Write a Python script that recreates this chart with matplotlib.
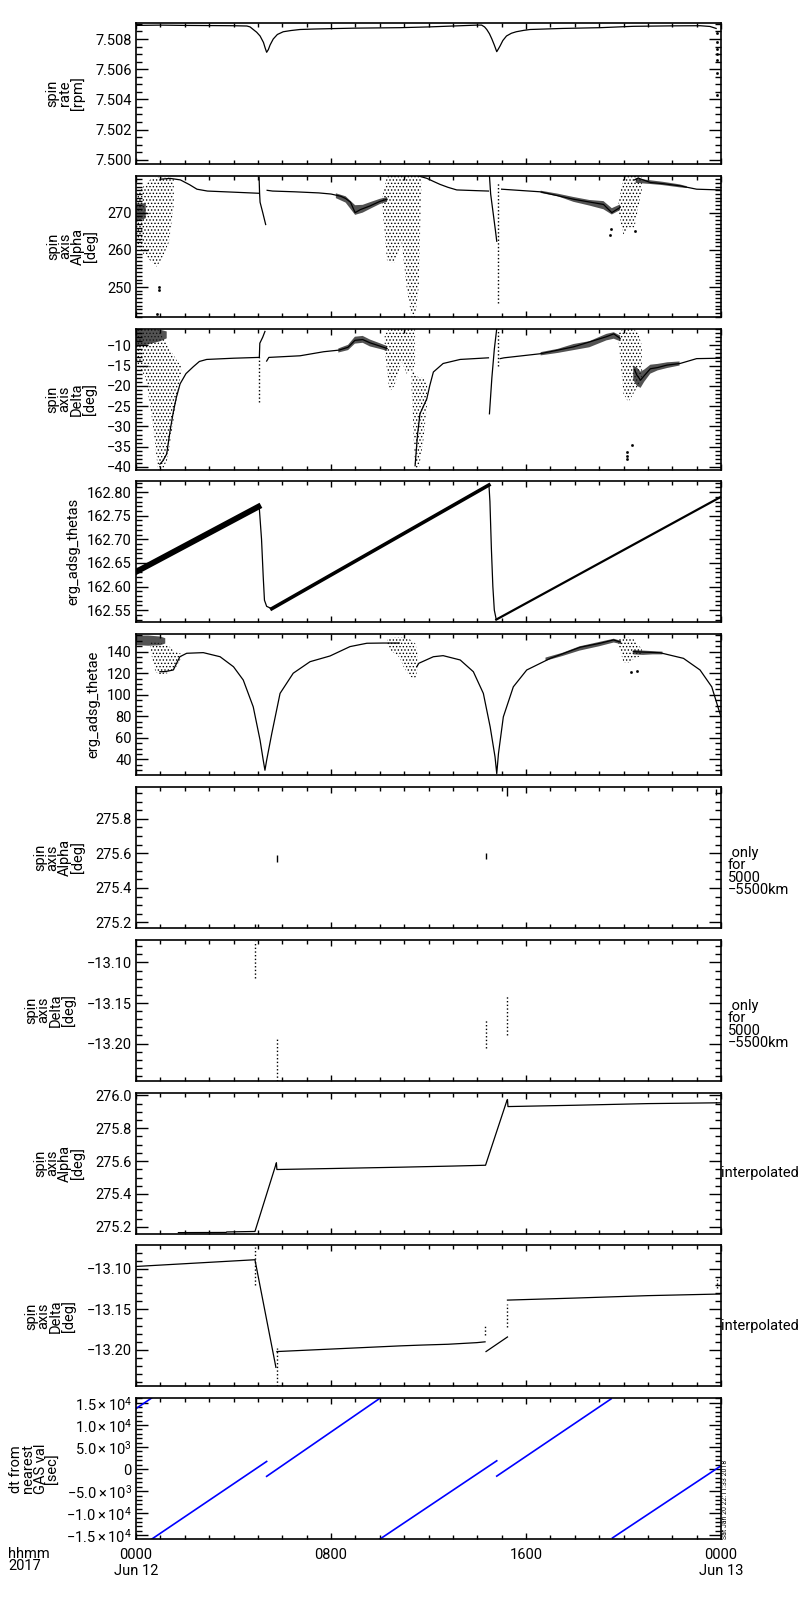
import matplotlib
matplotlib.use('Agg')
import matplotlib.pyplot as plt
from matplotlib.ticker import MultipleLocator, FixedLocator, FuncFormatter
import numpy as np

plt.rcParams['font.family'] = ['Roboto', 'DejaVu Sans']
plt.rcParams['mathtext.fontset'] = 'custom'
plt.rcParams['mathtext.rm'] = 'Roboto'
plt.rcParams['mathtext.it'] = 'Roboto:italic'
plt.rcParams['mathtext.bf'] = 'Roboto:bold'
plt.rcParams['hatch.linewidth'] = 0.6
plt.rcParams['axes.unicode_minus'] = True

# ---------------- time axis (hours since 2017-06-12 00:00) ----------------
x_major = [0, 8, 16, 24]
x_labels = ['0000\nJun 12', '0800', '1600', '0000\nJun 13']

# ---------------- panel 1: spin rate ----------------
rate_t = [0.0, 1.0, 2.0, 3.0, 4.0, 4.55, 4.68, 4.81, 4.95, 5.09, 5.23, 5.3, 5.36, 5.43, 5.5, 5.63,
          5.8, 6.04, 6.35, 6.73, 7.3, 8.1, 9.0, 10.83, 12.0, 13.0, 14.0, 14.18, 14.3, 14.39, 14.5,
          14.6, 14.7, 14.8, 14.87, 14.94, 15.05, 15.2, 15.4, 15.6, 15.9, 16.17, 17.5, 19.04, 20.4,
          22.0, 23.14, 23.55, 23.8]
rate_v = [7.50890, 7.50892, 7.50890, 7.50889, 7.50888, 7.50886, 7.50880, 7.50863, 7.50845, 7.50820,
          7.50777, 7.50740, 7.50712, 7.50730, 7.50760, 7.50800, 7.50830, 7.50848, 7.50856, 7.50863,
          7.50866, 7.50869, 7.50872, 7.50875, 7.50880, 7.50886, 7.50892, 7.50892, 7.50880, 7.50863,
          7.50835, 7.50800, 7.50760, 7.50716, 7.50735, 7.50755, 7.50790, 7.50820, 7.50838, 7.50848,
          7.50857, 7.50863, 7.50870, 7.50875, 7.50884, 7.50887, 7.50888, 7.50883, 7.50870]
rate_tail_t = [23.82, 23.82, 23.83, 23.83, 23.84, 23.84, 23.85]
rate_tail_v = [7.50840, 7.50777, 7.50734, 7.50701, 7.50658, 7.50572, 7.50432]

# ---------------- panel 2: spin axis alpha ----------------
alpha_segs_t = [
    [1.03, 1.4, 1.82, 2.2, 2.5, 2.93, 4.0, 5.05],
    [5.05, 5.07, 5.09, 5.2, 5.32],
    [5.38, 5.6, 6.5, 7.5, 8.0, 8.4, 8.6, 8.8, 8.99, 9.2, 9.6, 10.0, 10.3],
    [11.57, 11.94, 12.2, 12.47, 12.8, 13.16, 14.0, 14.46],
    [14.5, 14.55, 14.65, 14.75, 14.8],
    [15.0, 16.58, 17.95, 19.18, 19.52, 19.86],
    [20.45, 20.6, 21.1, 21.6, 22.32, 23.0, 23.96],
]
alpha_segs_v = [
    [279.0, 279.2, 278.8, 277.5, 276.3, 275.8, 275.5, 275.2],
    [279.5, 275.2, 272.8, 270.0, 266.8],
    [276.0, 275.8, 275.6, 275.3, 275.0, 274.4, 273.8, 272.8, 270.0, 270.8, 271.8, 273.0, 273.6],
    [279.9, 279.2, 278.4, 277.6, 276.8, 276.1, 275.9, 275.8],
    [279.9, 275.0, 270.0, 265.0, 262.3],
    [276.3, 275.6, 273.6, 272.2, 270.0, 271.4],
    [278.8, 279.3, 278.1, 277.8, 277.2, 276.3, 276.1],
]
alpha_cloud_t = [[0.0, 0.3, 0.6, 0.85, 1.1, 1.35, 1.55],
                 [10.1, 10.3, 10.6, 10.9, 11.1, 11.3, 11.45, 11.6, 11.7],
                 [19.8, 20.0, 20.2, 20.45, 20.75]]
alpha_cloud_lo = [[262, 259, 257, 255.5, 258, 262, 272],
                  [272, 257, 256.5, 262, 250, 242, 242, 250, 276],
                  [270, 264, 266, 266, 276]]
alpha_cloud_hi = [[275, 277, 279, 279.5, 279.5, 279.5, 279],
                  [274, 279.9, 279.9, 279.9, 279.9, 279.9, 279.9, 279.9, 279.9],
                  [273, 279.9, 279.9, 279.9, 279.5]]
alpha_band_t = [[0.0, 0.2, 0.4],
                [8.2, 8.6, 8.99, 9.3, 9.6, 10.0, 10.3],
                [16.6, 17.3, 17.95, 18.6, 19.18, 19.52, 19.86],
                [20.5, 21.1, 21.6, 22.3, 22.6]]
alpha_band_lo = [[267.5, 268, 268.5],
                 [273.9, 272.7, 269.4, 270.0, 271.0, 272.3, 272.9],
                 [275.3, 274.4, 272.9, 271.9, 270.9, 269.5, 270.7],
                 [278.0, 277.7, 277.4, 276.8, 276.6]]
alpha_band_hi = [[272.5, 272.5, 272.5],
                 [275.2, 274.4, 272.0, 272.1, 272.8, 273.7, 274.2],
                 [275.9, 275.1, 274.2, 273.4, 273.1, 271.2, 272.2],
                 [279.2, 278.7, 278.3, 277.6, 277.1]]
alpha_dots_t = [0.95, 0.96, 0.88, 19.45, 19.47, 20.48]
alpha_dots_v = [250.0, 249.2, 242.8, 264.1, 265.7, 265.0]
alpha_dotted = [(14.87, 245.8, 278.2)]

# ---------------- panel 3: spin axis delta ----------------
delta_segs_t = [
    [0.98, 1.1, 1.26, 1.4, 1.53, 1.65, 1.81, 2.05, 2.35, 2.6, 2.9, 4.0, 5.04],
    [5.06, 5.08, 5.2, 5.29],
    [5.36, 5.45, 6.73, 7.7, 8.33, 8.7, 8.98, 9.3, 9.6, 10.0, 10.3],
    [11.45, 11.55, 11.65, 11.93, 12.05, 12.2, 12.6, 13.3, 14.46],
    [14.5, 14.6, 14.7, 14.8],
    [14.94, 15.1, 16.58, 17.95, 19.3, 19.6, 19.86],
    [20.45, 20.55, 20.7, 20.85, 21.1, 21.4, 21.78, 22.32, 23.0, 23.96],
]
delta_segs_v = [
    [-39.3, -38.5, -36.8, -31.0, -26.5, -23.0, -19.5, -17.0, -15.3, -14.0, -13.5, -13.2, -13.0],
    [-13.0, -9.5, -8.0, -6.6],
    [-13.9, -13.0, -12.6, -11.6, -11.2, -10.5, -8.8, -8.6, -9.4, -10.2, -10.8],
    [-39.7, -32.0, -26.9, -23.2, -20.0, -16.6, -14.5, -13.5, -13.1],
    [-26.9, -18.0, -11.0, -5.9],
    [-13.3, -13.1, -12.1, -10.4, -7.9, -7.2, -8.3],
    [-16.0, -17.4, -18.6, -17.5, -15.8, -15.5, -14.9, -14.5, -13.3, -13.2],
]
delta_cloud_t = [[0.0, 0.4, 0.7, 0.9, 1.1, 1.3, 1.5, 1.7, 1.85],
                 [10.2, 10.4, 10.6, 10.9, 11.1, 11.3, 11.45],
                 [11.3, 11.45, 11.6, 11.8, 11.95],
                 [19.8, 20.0, 20.2, 20.4, 20.6, 20.75]]
delta_cloud_lo = [[-14, -18, -30, -40.6, -40.6, -38, -30, -22, -17],
                  [-11, -21.5, -20, -14, -17, -16, -15],
                  [-20, -40.6, -40.6, -33, -24],
                  [-9, -22, -24, -22, -20, -19]]
delta_cloud_hi = [[-5.9, -5.9, -5.9, -6, -8, -10, -12, -14, -15],
                  [-7.5, -5.9, -5.9, -5.9, -5.9, -5.9, -5.9],
                  [-15, -17, -18, -18, -20],
                  [-7, -5.9, -5.9, -5.9, -7, -10]]
delta_band_t = [[0.0, 0.5, 1.0, 1.26],
                [8.3, 8.7, 8.98, 9.3, 9.6, 10.0, 10.3],
                [16.6, 17.3, 17.95, 18.6, 19.3, 19.6, 19.86],
                [20.4, 20.55, 20.7, 20.85, 21.1, 21.4, 21.8, 22.3]]
delta_band_lo = [[-10.5, -9.8, -9.0, -8.3],
                 [-11.8, -11.2, -9.6, -9.4, -10.3, -10.9, -11.4],
                 [-12.5, -11.9, -11.2, -10.5, -8.8, -8.4, -9.0],
                 [-18.5, -20.0, -20.5, -19.0, -17.0, -16.2, -15.6, -15.0]]
delta_band_hi = [[-6.2, -6.2, -6.2, -6.6],
                 [-10.8, -9.9, -7.9, -7.7, -8.6, -9.5, -10.2],
                 [-11.7, -10.9, -9.7, -9.0, -7.2, -6.8, -7.6],
                 [-15.0, -15.5, -16.5, -16.0, -14.8, -14.6, -14.2, -14.0]]
delta_dots_t = [20.13, 20.14, 20.16, 20.35]
delta_dots_v = [-36.4, -37.3, -38.1, -34.7]
delta_dotted = [(5.06, -24.0, -13.0), (14.87, -15.0, -5.9)]

# ---------------- panel 4: erg_adsg_thetas ----------------
thetas_segs_t = [[0.0, 5.02], [5.02, 5.06, 5.15, 5.22, 5.27, 5.36, 5.57], [5.57, 14.48],
                 [14.48, 14.52, 14.58, 14.64, 14.7, 14.78], [14.78, 24.0]]
thetas_segs_v = [[162.631, 162.769], [162.769, 162.765, 162.700, 162.620, 162.571, 162.558, 162.553],
                 [162.553, 162.815], [162.815, 162.780, 162.680, 162.600, 162.550, 162.530],
                 [162.530, 162.790]]

# ---------------- panel 5: erg_adsg_thetae ----------------
thetae_segs_t = [
    [0.98, 1.2, 1.53, 1.8, 2.08, 2.76, 3.45, 4.0, 4.4, 4.81, 5.09, 5.22, 5.29, 5.36, 5.57, 5.91,
     6.45, 7.14, 7.96, 8.78, 9.47, 10.15, 10.8],
    [11.52, 11.6, 12.2, 12.6, 13.3, 13.84, 14.25, 14.53, 14.73, 14.8, 14.87, 15.07, 15.48, 16.03,
     17.0, 18.22, 19.04, 19.59, 19.86],
    [20.4, 21.5, 22.46, 23.14, 23.62, 24.0],
]
thetae_segs_v = [
    [121.4, 121.5, 123.0, 135.3, 138.5, 139.1, 135.3, 126.0, 113.7, 88.8, 57.9, 39.3, 30.0, 39.3,
     64.0, 101.3, 120.0, 130.7, 136.0, 144.7, 147.8, 148.0, 148.0],
    [126.0, 129.2, 135.3, 136.3, 132.3, 121.4, 101.3, 70.2, 42.3, 26.8, 45.4, 79.5, 107.4, 123.0,
     133.8, 144.1, 147.8, 150.9, 149.0],
    [140.0, 139.0, 133.8, 123.0, 107.4, 79.5],
]
thetae_cloud_t = [[0.6, 0.8, 1.0, 1.3, 1.6, 1.85],
                  [10.3, 10.5, 10.8, 11.0, 11.2, 11.45, 11.55],
                  [19.8, 20.0, 20.2, 20.4, 20.6, 20.75]]
thetae_cloud_lo = [[140, 121, 119, 120, 124, 134],
                   [146, 140, 135, 125, 118, 113.7, 124],
                   [146, 130, 129.5, 133, 135, 137]]
thetae_cloud_hi = [[150, 149, 148, 146, 140, 138],
                   [151, 153, 153.5, 153, 152, 148, 140],
                   [152, 153, 153, 152, 146, 143]]
thetae_band_t = [[0.0, 0.5, 1.0, 1.2],
                 [16.8, 17.5, 18.2, 19.0, 19.6, 19.9],
                 [20.4, 20.8, 21.2, 21.6]]
thetae_band_lo = [[146, 145.5, 146, 147.5],
                  [131.5, 136, 141, 145, 148.5, 147],
                  [137.5, 137, 137.5, 137.5]]
thetae_band_hi = [[155, 155, 154, 152.5],
                  [134.5, 139, 145, 149, 152, 150],
                  [141.5, 141, 140.5, 140]]
thetae_dots_t = [20.3, 20.55]
thetae_dots_v = [121.4, 122.0]

# ---------------- panel 6/7: only for 5000-5500 km ----------------
alpha_sel = [(4.9, 275.168, 275.19), (5.77, 275.552, 275.59), (14.36, 275.565, 275.60),
             (15.24, 275.93, 275.984), (23.8, 275.94, 275.97)]
delta_sel = [(4.9, -13.119, -13.073), (5.77, -13.246, -13.195), (14.34, -13.205, -13.17),
             (15.24, -13.19, -13.14)]

# ---------------- panel 8: interpolated alpha ----------------
alpha_int_t = [1.74, 3.70, 3.72, 4.88, 5.74, 5.76, 5.78, 8.0, 10.83, 13.0, 14.34, 15.22, 15.24,
               15.26, 18.0, 21.0, 23.96]
alpha_int_v = [275.165, 275.166, 275.169, 275.172, 275.580, 275.590, 275.549, 275.555, 275.563,
               275.570, 275.575, 275.970, 275.975, 275.932, 275.940, 275.950, 275.955]
alpha_int_dotted = [(23.8, 275.955, 275.99)]

# ---------------- panel 9: interpolated delta ----------------
delta_int_segs_t = [[0.0, 4.88, 5.74], [5.78, 10.83, 11.72, 12.8, 13.98, 14.32], [14.36, 15.24],
                    [15.24, 18.0, 21.0, 23.96]]
delta_int_segs_v = [[-13.097, -13.0887, -13.2215],
                    [-13.202, -13.195, -13.194, -13.193, -13.191, -13.190],
                    [-13.202, -13.184],
                    [-13.1385, -13.136, -13.133, -13.131]]
delta_int_dotted = [(4.9, -13.12, -13.073), (5.77, -13.244, -13.197), (14.32, -13.182, -13.17),
                    (15.24, -13.172, -13.143), (23.85, -13.123, -13.11)]

# ---------------- panel 10: dt from nearest GAS value ----------------
dt_t0 = [0.0, 0.64, 5.36, 10.0, 14.8, 19.55]
dt_v0 = [13700, -15900, -1650, -15900, -1600, -15600]
dt_t1 = [0.64, 5.36, 10.01, 14.8, 19.49, 23.96]
dt_v1 = [16100, 1720, 16060, 1870, 15900, 590]

# ---------------- labels ----------------
ylabels = ['spin\nrate\n[rpm]', 'spin\naxis\nAlpha\n[deg]', 'spin\naxis\nDelta\n[deg]',
           'erg_adsg_thetas', 'erg_adsg_thetae', 'spin\naxis\nAlpha\n[deg]',
           'spin\naxis\nDelta\n[deg]', 'spin\naxis\nAlpha\n[deg]', 'spin\naxis\nDelta\n[deg]',
           'dt from\nnearest\nGAS val\n[sec]']
ylabel_right_px = [85, 98, 97, 80, 100, 85, 76, 85, 76, 60]
ylims = [(7.49972, 7.50906), (242.0, 279.9), (-40.65, -5.9), (162.524, 162.8226), (25.4, 156.2),
         (275.168, 275.984), (-13.246, -13.072), (275.159, 276.017), (-13.245, -13.071),
         (-15900, 16060)]
ymajor = [0.002, 10, 5, 0.05, 20, 0.2, 0.05, 0.2, 0.05, 5000]
yminor = [0.0005, 1, 1, 0.01, 5, 0.05, 0.01, 0.05, 0.01, 1000]
ydecimals = [3, 0, 0, 2, 0, 1, 2, 1, 2, None]

FS = 10.5
fig = plt.figure(figsize=(8, 16), dpi=100)
W, H = 800.0, 1600.0
axes = []
for k in range(10):
    top = 23 + 152.8 * k
    ax = fig.add_axes([136 / W, 1 - (top + 141) / H, 585 / W, 141 / H])
    axes.append(ax)


def sci_fmt(v, pos):
    if abs(v) < 1:
        return '0'
    e = int(np.floor(np.log10(abs(v)) + 1e-9))
    m = abs(v) / 10 ** e
    sign = '-' if v < 0 else ''
    return r'$%s%.1f\times10^{%d}$' % (sign, m, e)


def make_fmt(d):
    def f(v, pos):
        s = ('%.' + str(d) + 'f') % v
        if s.startswith('-') and float(s) == 0:
            s = s[1:]
        return s.replace('-', '\u2212')
    return f


for k, ax in enumerate(axes):
    ax.set_xlim(0, 24)
    ax.set_ylim(*ylims[k])
    ax.xaxis.set_major_locator(FixedLocator(x_major))
    ax.xaxis.set_minor_locator(MultipleLocator(1))
    ax.yaxis.set_major_locator(MultipleLocator(ymajor[k]))
    ax.yaxis.set_minor_locator(MultipleLocator(yminor[k]))
    if ydecimals[k] is None:
        ax.yaxis.set_major_formatter(FuncFormatter(sci_fmt))
    else:
        ax.yaxis.set_major_formatter(FuncFormatter(make_fmt(ydecimals[k])))
    ax.tick_params(which='both', direction='in', top=True, right=True, labelsize=FS,
                   width=1.0, colors='black')
    ax.tick_params(axis='y', which='major', length=8.6, pad=3)
    ax.tick_params(axis='y', which='minor', length=4.3)
    ax.tick_params(axis='x', which='major', length=4.5, pad=6)
    ax.tick_params(axis='x', which='minor', length=3)
    for s in ax.spines.values():
        s.set_linewidth(1.2)
    if k < 9:
        ax.set_xticklabels([])
    else:
        ax.set_xticklabels(x_labels)
    ax.set_ylabel(ylabels[k], fontsize=FS, linespacing=0.85)
    ax.yaxis.set_label_coords((ylabel_right_px[k] - 136) / 585.0, 0.5)

LW = 0.9
K = 'black'


def draw_clouds(ax, ts, los, his):
    for t, lo, hi in zip(ts, los, his):
        ax.fill_between(t, lo, hi, facecolor='none', edgecolor=K, hatch='.....', linewidth=0)


def draw_bands(ax, ts, los, his):
    for t, lo, hi in zip(ts, los, his):
        ax.fill_between(t, lo, hi, facecolor='#1a1a1a', edgecolor='none', linewidth=0, alpha=0.75)


def draw_segs(ax, ts, vs, color=K, lw=LW):
    for t, v in zip(ts, vs):
        ax.plot(t, v, color=color, lw=lw)


def draw_vl(ax, items, ls=':'):
    for t, lo, hi in items:
        ax.vlines(t, lo, hi, colors=K, linestyles=ls, lw=1.0)


# panel 1
a = axes[0]
a.plot(rate_t, rate_v, color=K, lw=LW)
a.plot(rate_tail_t, rate_tail_v, ls='none', marker='s', ms=0.9, color=K)

# panel 2
a = axes[1]
draw_clouds(a, alpha_cloud_t, alpha_cloud_lo, alpha_cloud_hi)
draw_bands(a, alpha_band_t, alpha_band_lo, alpha_band_hi)
draw_segs(a, alpha_segs_t, alpha_segs_v)
a.plot(alpha_dots_t, alpha_dots_v, ls='none', marker='s', ms=0.9, color=K)
draw_vl(a, alpha_dotted)

# panel 3
a = axes[2]
draw_clouds(a, delta_cloud_t, delta_cloud_lo, delta_cloud_hi)
draw_bands(a, delta_band_t, delta_band_lo, delta_band_hi)
draw_segs(a, delta_segs_t, delta_segs_v)
a.plot(delta_dots_t, delta_dots_v, ls='none', marker='s', ms=0.9, color=K)
draw_vl(a, delta_dotted)

# panel 4
a = axes[3]
thetas_lw = [4.2, LW, 2.6, LW, 1.6]
for t, v, w in zip(thetas_segs_t, thetas_segs_v, thetas_lw):
    a.plot(t, v, color=K, lw=w)

# panel 5
a = axes[4]
draw_clouds(a, thetae_cloud_t, thetae_cloud_lo, thetae_cloud_hi)
draw_bands(a, thetae_band_t, thetae_band_lo, thetae_band_hi)
draw_segs(a, thetae_segs_t, thetae_segs_v)
a.plot(thetae_dots_t, thetae_dots_v, ls='none', marker='s', ms=0.9, color=K)

# panel 6, 7
draw_vl(axes[5], alpha_sel, ls='-')
draw_vl(axes[6], delta_sel, ls=':')

# panel 8
a = axes[7]
a.plot(alpha_int_t, alpha_int_v, color=K, lw=LW)
draw_vl(a, alpha_int_dotted)

# panel 9
a = axes[8]
draw_segs(a, delta_int_segs_t, delta_int_segs_v)
draw_vl(a, delta_int_dotted)

# panel 10
a = axes[9]
for t0, v0, t1, v1 in zip(dt_t0, dt_v0, dt_t1, dt_v1):
    a.plot([t0, t1], [v0, v1], color='#0000ff', lw=1.2)

# right-hand notes
for k in (5, 6):
    axes[k].text(1.012, 0.40, ' only\nfor\n5000\n\u22125500km', transform=axes[k].transAxes,
                 ha='left', va='center', fontsize=FS, linespacing=0.85)
for k in (7, 8):
    axes[k].text(1.0, 0.43, 'interpolated', transform=axes[k].transAxes,
                 ha='left', va='center', fontsize=FS)

fig.text(8 / W, 1 - 1547 / H, 'hhmm\n2017', ha='left', va='top', fontsize=FS, linespacing=0.85)
fig.text(722 / W, 1 - 1539 / H, 'Sat Jan 20 22:11:33 2018', rotation=90, ha='left', va='bottom',
         fontsize=5)

fig.savefig('out.png', dpi=100)
